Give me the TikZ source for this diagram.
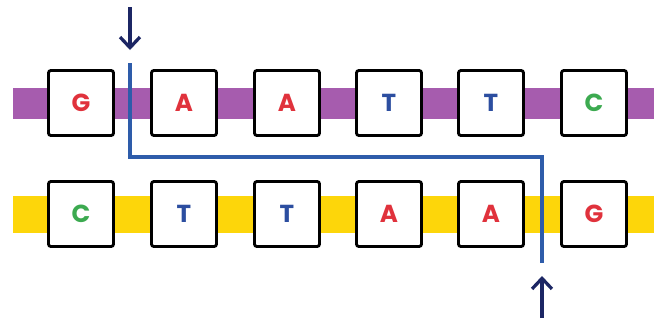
\documentclass[tikz,border=0pt]{standalone}
\usepackage{fontspec}
\setmainfont{Poppins}
\usetikzlibrary{arrows.meta}
\definecolor{bandpurple}{RGB}{166,92,174}
\definecolor{bandyellow}{RGB}{253,214,10}
\definecolor{baseRed}{RGB}{224,50,60}
\definecolor{baseBlue}{RGB}{44,78,160}
\definecolor{baseGreen}{RGB}{60,170,80}
\definecolor{cutblue}{RGB}{46,92,170}
\definecolor{arrownavy}{RGB}{28,38,100}
\tikzset{
  base/.style={draw=black,fill=white,line width=2.4pt,rounded corners=2pt,
    minimum size=1.95cm,inner sep=0pt,font=\fontsize{21}{24}\selectfont\bfseries},
  cutline/.style={draw=cutblue,line width=3.4pt},
  cutarrow/.style={draw=arrownavy,line width=2.8pt,-{Straight Barb[length=9pt,width=17pt]}}
}
\begin{document}
\begin{tikzpicture}[x=0.03cm,y=-0.03cm]
    \useasboundingbox (0,0) rectangle (654,322);
    % backbones
    \fill[bandpurple] (13,88) rectangle (654,119);
    \fill[bandyellow] (13,196) rectangle (654,233);
    % top strand
    \node[base,text=baseRed]   (t1) at (81,103)  {G};
    \node[base,text=baseRed]   (t2) at (184,103) {A};
    \node[base,text=baseRed]   (t3) at (287,103) {A};
    \node[base,text=baseBlue]  (t4) at (389,103) {T};
    \node[base,text=baseBlue]  (t5) at (491,103) {T};
    \node[base,text=baseGreen] (t6) at (594,103) {C};
    % bottom strand
    \node[base,text=baseGreen] (b1) at (81,214)  {C};
    \node[base,text=baseBlue]  (b2) at (184,214) {T};
    \node[base,text=baseBlue]  (b3) at (287,214) {T};
    \node[base,text=baseRed]   (b4) at (389,214) {A};
    \node[base,text=baseRed]   (b5) at (491,214) {A};
    \node[base,text=baseRed]   (b6) at (594,214) {G};
    % cut
    \coordinate (cutA) at (130,63);
    \coordinate (cutB) at (130,157);
    \coordinate (cutC) at (542,157);
    \coordinate (cutD) at (542,263);
    \draw[cutline] (cutA) -- (cutB) -- (cutC) -- (cutD);
    \coordinate (upStart) at (130,7);
    \coordinate (upEnd) at (130,50);
    \coordinate (lowStart) at (542,318);
    \coordinate (lowEnd) at (542,276);
    \draw[cutarrow] (upStart) -- (upEnd);
    \draw[cutarrow] (lowStart) -- (lowEnd);
\end{tikzpicture}
\end{document}
